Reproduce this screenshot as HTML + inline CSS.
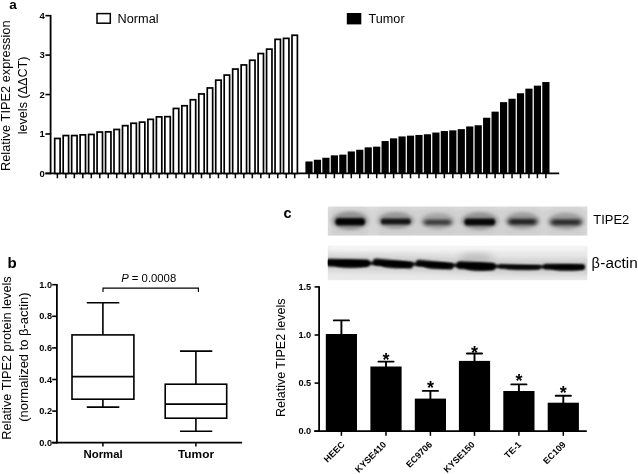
<!DOCTYPE html>
<html lang="en"><head><meta charset="utf-8"><title>TIPE2 expression figure</title>
<style>html,body{margin:0;padding:0;background:#fff;overflow:hidden}svg{display:block;filter:blur(0.3px)}text{font-family:"Liberation Sans", sans-serif;fill:#000}.b{font-weight:bold}.ax{stroke:#000;fill:none}</style></head><body>
<svg width="638" height="474" viewBox="0 0 638 474">
<defs><filter id="bl1" filterUnits="userSpaceOnUse" x="300" y="190" width="338" height="110"><feGaussianBlur stdDeviation="1.3 1.05"/></filter><filter id="bl4" filterUnits="userSpaceOnUse" x="300" y="190" width="338" height="110"><feGaussianBlur stdDeviation="1.9 1.4"/></filter><filter id="bl2" filterUnits="userSpaceOnUse" x="300" y="190" width="338" height="110"><feGaussianBlur stdDeviation="2.2 1.6"/></filter><filter id="bl3" filterUnits="userSpaceOnUse" x="300" y="190" width="338" height="110"><feGaussianBlur stdDeviation="4 3"/></filter><clipPath id="c1"><rect x="327.8" y="206.6" width="259.6" height="29"/></clipPath><clipPath id="c2"><rect x="327.8" y="245.8" width="259.6" height="34.4"/></clipPath></defs>
<rect width="638" height="474" fill="#fff"/>
<g id="panel-a">
<text class="b" x="9.2" y="9.0" font-size="13.5">a</text>
<line class="ax" x1="50.6" y1="14.95" x2="50.6" y2="174.30" stroke-width="1.8"/>
<line class="ax" x1="45.4" y1="173.45" x2="50.6" y2="173.45" stroke-width="1.6"/>
<text class="b" x="44.9" y="176.80" font-size="9.5" text-anchor="end">0</text>
<line class="ax" x1="45.4" y1="134.00" x2="50.6" y2="134.00" stroke-width="1.6"/>
<text class="b" x="44.9" y="137.35" font-size="9.5" text-anchor="end">1</text>
<line class="ax" x1="45.4" y1="94.55" x2="50.6" y2="94.55" stroke-width="1.6"/>
<text class="b" x="44.9" y="97.90" font-size="9.5" text-anchor="end">2</text>
<line class="ax" x1="45.4" y1="55.10" x2="50.6" y2="55.10" stroke-width="1.6"/>
<text class="b" x="44.9" y="58.45" font-size="9.5" text-anchor="end">3</text>
<line class="ax" x1="45.4" y1="15.65" x2="50.6" y2="15.65" stroke-width="1.6"/>
<text class="b" x="44.9" y="19.00" font-size="9.5" text-anchor="end">4</text>
<line class="ax" x1="45.4" y1="173.45" x2="559.2" y2="173.45" stroke-width="1.7"/>
<g fill="#fff" stroke="#000" stroke-width="1.70">
<rect x="54.70" y="138.45" width="5.40" height="35.00"/>
<rect x="63.18" y="135.55" width="5.40" height="37.90"/>
<rect x="71.65" y="135.55" width="5.40" height="37.90"/>
<rect x="80.12" y="134.85" width="5.40" height="38.60"/>
<rect x="88.60" y="134.45" width="5.40" height="39.00"/>
<rect x="97.08" y="132.05" width="5.40" height="41.40"/>
<rect x="105.55" y="131.85" width="5.40" height="41.60"/>
<rect x="114.02" y="129.45" width="5.40" height="44.00"/>
<rect x="122.50" y="125.65" width="5.40" height="47.80"/>
<rect x="130.97" y="123.25" width="5.40" height="50.20"/>
<rect x="139.45" y="122.15" width="5.40" height="51.30"/>
<rect x="147.92" y="119.35" width="5.40" height="54.10"/>
<rect x="156.40" y="116.85" width="5.40" height="56.60"/>
<rect x="164.87" y="116.65" width="5.40" height="56.80"/>
<rect x="173.35" y="108.45" width="5.40" height="65.00"/>
<rect x="181.82" y="105.75" width="5.40" height="67.70"/>
<rect x="190.30" y="99.75" width="5.40" height="73.70"/>
<rect x="198.77" y="93.95" width="5.40" height="79.50"/>
<rect x="207.25" y="87.95" width="5.40" height="85.50"/>
<rect x="215.72" y="80.15" width="5.40" height="93.30"/>
<rect x="224.20" y="75.05" width="5.40" height="98.40"/>
<rect x="232.67" y="69.05" width="5.40" height="104.40"/>
<rect x="241.15" y="64.95" width="5.40" height="108.50"/>
<rect x="249.62" y="60.25" width="5.40" height="113.20"/>
<rect x="258.10" y="53.55" width="5.40" height="119.90"/>
<rect x="266.57" y="49.15" width="5.40" height="124.30"/>
<rect x="275.05" y="39.35" width="5.40" height="134.10"/>
<rect x="283.52" y="38.35" width="5.40" height="135.10"/>
<rect x="292.00" y="35.25" width="5.40" height="138.20"/>
</g>
<g fill="#000">
<rect x="305.40" y="161.45" width="7.20" height="12.00"/>
<rect x="313.86" y="159.75" width="7.20" height="13.70"/>
<rect x="322.32" y="157.75" width="7.20" height="15.70"/>
<rect x="330.78" y="155.35" width="7.20" height="18.10"/>
<rect x="339.24" y="154.65" width="7.20" height="18.80"/>
<rect x="347.70" y="151.45" width="7.20" height="22.00"/>
<rect x="356.16" y="149.75" width="7.20" height="23.70"/>
<rect x="364.62" y="147.35" width="7.20" height="26.10"/>
<rect x="373.08" y="146.65" width="7.20" height="26.80"/>
<rect x="381.54" y="141.05" width="7.20" height="32.40"/>
<rect x="390.00" y="138.35" width="7.20" height="35.10"/>
<rect x="398.46" y="136.45" width="7.20" height="37.00"/>
<rect x="406.92" y="135.65" width="7.20" height="37.80"/>
<rect x="415.38" y="134.95" width="7.20" height="38.50"/>
<rect x="423.84" y="134.25" width="7.20" height="39.20"/>
<rect x="432.30" y="132.55" width="7.20" height="40.90"/>
<rect x="440.76" y="131.05" width="7.20" height="42.40"/>
<rect x="449.22" y="130.35" width="7.20" height="43.10"/>
<rect x="457.68" y="129.15" width="7.20" height="44.30"/>
<rect x="466.14" y="126.45" width="7.20" height="47.00"/>
<rect x="474.60" y="125.25" width="7.20" height="48.20"/>
<rect x="483.06" y="117.75" width="7.20" height="55.70"/>
<rect x="491.52" y="111.65" width="7.20" height="61.80"/>
<rect x="499.98" y="102.15" width="7.20" height="71.30"/>
<rect x="508.44" y="98.75" width="7.20" height="74.70"/>
<rect x="516.90" y="93.25" width="7.20" height="80.20"/>
<rect x="525.36" y="88.65" width="7.20" height="84.80"/>
<rect x="533.82" y="85.65" width="7.20" height="87.80"/>
<rect x="542.28" y="82.05" width="7.20" height="91.40"/>
</g>
<path class="ax" d="M57.40 173.45V178.35M65.88 173.45V178.35M74.35 173.45V178.35M82.82 173.45V178.35M91.30 173.45V178.35M99.78 173.45V178.35M108.25 173.45V178.35M116.72 173.45V178.35M125.20 173.45V178.35M133.67 173.45V178.35M142.15 173.45V178.35M150.62 173.45V178.35M159.10 173.45V178.35M167.57 173.45V178.35M176.05 173.45V178.35M184.53 173.45V178.35M193.00 173.45V178.35M201.47 173.45V178.35M209.95 173.45V178.35M218.43 173.45V178.35M226.90 173.45V178.35M235.38 173.45V178.35M243.85 173.45V178.35M252.32 173.45V178.35M260.80 173.45V178.35M269.27 173.45V178.35M277.75 173.45V178.35M286.22 173.45V178.35M294.70 173.45V178.35M309.00 173.45V178.35M317.46 173.45V178.35M325.92 173.45V178.35M334.38 173.45V178.35M342.84 173.45V178.35M351.30 173.45V178.35M359.76 173.45V178.35M368.22 173.45V178.35M376.68 173.45V178.35M385.14 173.45V178.35M393.60 173.45V178.35M402.06 173.45V178.35M410.52 173.45V178.35M418.98 173.45V178.35M427.44 173.45V178.35M435.90 173.45V178.35M444.36 173.45V178.35M452.82 173.45V178.35M461.28 173.45V178.35M469.74 173.45V178.35M478.20 173.45V178.35M486.66 173.45V178.35M495.12 173.45V178.35M503.58 173.45V178.35M512.04 173.45V178.35M520.50 173.45V178.35M528.96 173.45V178.35M537.42 173.45V178.35M545.88 173.45V178.35" stroke-width="1.5"/>
<rect x="97" y="13.6" width="13.3" height="9.6" fill="#fff" stroke="#000" stroke-width="1.5"/>
<text x="117.6" y="22.5" font-size="12.5" textLength="41" lengthAdjust="spacingAndGlyphs">Normal</text>
<rect x="346.8" y="13" width="14.5" height="11.4" fill="#000"/>
<text x="368.6" y="23.2" font-size="12.5" textLength="36" lengthAdjust="spacingAndGlyphs">Tumor</text>
<text transform="translate(10.3 171) rotate(-90)" font-size="12.7" textLength="150.6" lengthAdjust="spacingAndGlyphs">Relative TIPE2 expression</text>
<text transform="translate(27.3 134.3) rotate(-90)" font-size="12.7" textLength="77.8" lengthAdjust="spacingAndGlyphs">levels (ΔΔCT)</text>
</g>
<g id="panel-b">
<text class="b" x="7.6" y="268.1" font-size="15">b</text>
<line class="ax" x1="56.9" y1="284.00" x2="56.9" y2="443.55" stroke-width="1.8"/>
<line class="ax" x1="52.2" y1="442.70" x2="56.9" y2="442.70" stroke-width="1.6"/>
<text class="b" x="52.0" y="445.80" font-size="9.2" text-anchor="end">0.0</text>
<line class="ax" x1="52.2" y1="411.10" x2="56.9" y2="411.10" stroke-width="1.6"/>
<text class="b" x="52.0" y="414.20" font-size="9.2" text-anchor="end">0.2</text>
<line class="ax" x1="52.2" y1="379.50" x2="56.9" y2="379.50" stroke-width="1.6"/>
<text class="b" x="52.0" y="382.60" font-size="9.2" text-anchor="end">0.4</text>
<line class="ax" x1="52.2" y1="347.90" x2="56.9" y2="347.90" stroke-width="1.6"/>
<text class="b" x="52.0" y="351.00" font-size="9.2" text-anchor="end">0.6</text>
<line class="ax" x1="52.2" y1="316.30" x2="56.9" y2="316.30" stroke-width="1.6"/>
<text class="b" x="52.0" y="319.40" font-size="9.2" text-anchor="end">0.8</text>
<line class="ax" x1="52.2" y1="284.70" x2="56.9" y2="284.70" stroke-width="1.6"/>
<text class="b" x="52.0" y="287.80" font-size="9.2" text-anchor="end">1.0</text>
<line class="ax" x1="52.2" y1="442.7" x2="242.1" y2="442.7" stroke-width="1.7"/>
<path class="ax" d="M102.9 442.7V446.50M195.9 442.7V446.50" stroke-width="1.5"/>
<g class="ax" stroke-width="1.6">
<rect x="72" y="334.9" width="61.9" height="64.30" fill="#fff"/>
<path d="M72 376.6H133.9M102.9 334.9V302.7M86.8 302.7H119.3M102.9 399.2V407.1M86.8 407.1H119.3"/>
<rect x="165.2" y="384.2" width="61.5" height="34.00" fill="#fff"/>
<path d="M165.2 404.1H226.7M195.9 384.2V351.1M180 351.1H212.3M195.9 418.2V431.2M180 431.2H212.3"/>
</g>
<path class="ax" d="M103 292V288.1H198.4V292" stroke-width="1.15"/>
<text x="121.2" y="282" font-size="11.3" textLength="55" lengthAdjust="spacingAndGlyphs"><tspan font-style="italic">P</tspan> = 0.0008</text>
<text class="b" x="103.1" y="457.6" font-size="11.3" text-anchor="middle" textLength="39.3" lengthAdjust="spacingAndGlyphs">Normal</text>
<text class="b" x="196" y="457.6" font-size="11.3" text-anchor="middle" textLength="36" lengthAdjust="spacingAndGlyphs">Tumor</text>
<text transform="translate(10.8 439.7) rotate(-90)" font-size="12.7" textLength="163.4" lengthAdjust="spacingAndGlyphs">Relative TIPE2 protein levels</text>
<text transform="translate(28.1 421.7) rotate(-90)" font-size="12.7" textLength="129.3" lengthAdjust="spacingAndGlyphs">(normalized to β-actin)</text>
</g>
<g id="panel-c">
<text class="b" x="283.6" y="217.7" font-size="14.5">c</text>
<rect x="327.8" y="206.6" width="259.6" height="29" fill="#dedede"/>
<g clip-path="url(#c1)">
<rect x="327.8" y="206.6" width="259.6" height="3" fill="#fff" opacity="0.35" filter="url(#bl2)"/>
<rect x="330.2" y="204" width="40" height="34" fill="#000" opacity="0.07" filter="url(#bl3)"/>
<ellipse cx="350.2" cy="220.8" rx="18.0" ry="9.2" fill="#000" opacity="0.29" filter="url(#bl2)"/>
<rect x="335.20" y="218.10" width="30.0" height="7.4" rx="3.70" fill="#000" opacity="0.97" filter="url(#bl1)"/>
<rect x="375.8" y="204" width="40" height="34" fill="#000" opacity="0.07" filter="url(#bl3)"/>
<ellipse cx="395.8" cy="220.5" rx="18.0" ry="8.4" fill="#000" opacity="0.26" filter="url(#bl2)"/>
<rect x="380.80" y="218.60" width="30.0" height="5.8" rx="2.90" fill="#000" opacity="0.86" filter="url(#bl1)"/>
<rect x="417.6" y="204" width="40" height="34" fill="#000" opacity="0.07" filter="url(#bl3)"/>
<ellipse cx="437.6" cy="221.2" rx="16.5" ry="8.3" fill="#000" opacity="0.19" filter="url(#bl2)"/>
<rect x="424.10" y="219.40" width="27.0" height="5.6" rx="2.80" fill="#000" opacity="0.64" filter="url(#bl4)"/>
<rect x="459.8" y="204" width="40" height="34" fill="#000" opacity="0.07" filter="url(#bl3)"/>
<ellipse cx="479.8" cy="221.0" rx="18.5" ry="8.9" fill="#000" opacity="0.28" filter="url(#bl2)"/>
<rect x="464.30" y="218.60" width="31.0" height="6.8" rx="3.40" fill="#000" opacity="0.95" filter="url(#bl1)"/>
<rect x="502.5" y="204" width="40" height="34" fill="#000" opacity="0.07" filter="url(#bl3)"/>
<ellipse cx="522.5" cy="220.8" rx="17.0" ry="8.5" fill="#000" opacity="0.23" filter="url(#bl2)"/>
<rect x="508.50" y="218.80" width="28.0" height="6.0" rx="3.00" fill="#000" opacity="0.78" filter="url(#bl4)"/>
<rect x="546.0" y="204" width="40" height="34" fill="#000" opacity="0.07" filter="url(#bl3)"/>
<ellipse cx="566.0" cy="221.3" rx="18.0" ry="8.5" fill="#000" opacity="0.22" filter="url(#bl2)"/>
<rect x="551.00" y="219.30" width="30.0" height="6.0" rx="3.00" fill="#000" opacity="0.72" filter="url(#bl4)"/>
</g>
<rect x="327.8" y="245.8" width="259.6" height="34.4" fill="#e9e9e9"/>
<g clip-path="url(#c2)">
<rect x="327.8" y="244" width="259.6" height="7" fill="#fff" opacity="0.5" filter="url(#bl2)"/>
<polyline points="322 262.6 347.8 262.9 393.0 263.6 434.8 264.6 476.1 265.9 519.6 266.9 564.2 266.8 592 267" fill="none" stroke="#000" stroke-width="15" opacity="0.13" filter="url(#bl3)"/>
<ellipse cx="476" cy="257" rx="17" ry="4" fill="#000" opacity="0.16" filter="url(#bl3)"/>
<polyline points="322 262.6 347.8 262.9 393.0 263.6 434.8 264.6 476.1 265.9 519.6 266.9 564.2 266.8 584 267" fill="none" stroke="#000" stroke-width="3.4" opacity="0.92" filter="url(#bl1)"/>
<line x1="329.20" y1="262.60" x2="366.30" y2="263.20" stroke="#000" stroke-width="7.60" stroke-linecap="round" opacity="0.97" filter="url(#bl1)"/>
<ellipse cx="350.75" cy="264.20" rx="16.55" ry="3.80" fill="#000" opacity="0.78" filter="url(#bl1)"/>
<line x1="376.30" y1="262.00" x2="409.70" y2="265.20" stroke="#000" stroke-width="6.80" stroke-linecap="round" opacity="0.95" filter="url(#bl1)"/>
<ellipse cx="396.00" cy="264.90" rx="14.70" ry="3.40" fill="#000" opacity="0.76" filter="url(#bl1)"/>
<line x1="419.10" y1="263.00" x2="450.40" y2="266.20" stroke="#000" stroke-width="6.40" stroke-linecap="round" opacity="0.93" filter="url(#bl1)"/>
<ellipse cx="437.75" cy="265.90" rx="13.65" ry="3.20" fill="#000" opacity="0.74" filter="url(#bl1)"/>
<line x1="460.30" y1="265.20" x2="491.90" y2="266.60" stroke="#000" stroke-width="7.80" stroke-linecap="round" opacity="0.96" filter="url(#bl1)"/>
<ellipse cx="479.10" cy="267.20" rx="13.80" ry="3.90" fill="#000" opacity="0.77" filter="url(#bl1)"/>
<line x1="500.70" y1="266.40" x2="538.50" y2="267.40" stroke="#000" stroke-width="4.20" stroke-linecap="round" opacity="0.74" filter="url(#bl1)"/>
<ellipse cx="522.60" cy="268.20" rx="16.90" ry="2.10" fill="#000" opacity="0.59" filter="url(#bl1)"/>
<line x1="546.30" y1="266.60" x2="582.20" y2="267.00" stroke="#000" stroke-width="5.80" stroke-linecap="round" opacity="0.85" filter="url(#bl1)"/>
<ellipse cx="567.25" cy="268.10" rx="15.95" ry="2.90" fill="#000" opacity="0.68" filter="url(#bl1)"/>
</g>
<text x="593.3" y="224.2" font-size="13" textLength="36" lengthAdjust="spacingAndGlyphs">TIPE2</text>
<text x="591.4" y="268.1" font-size="14"><tspan font-size="14.5">β</tspan><tspan dx="0.6" textLength="37.4" lengthAdjust="spacingAndGlyphs">-actin</tspan></text>
<line class="ax" x1="319.1" y1="286.20" x2="319.1" y2="432.05" stroke-width="1.8"/>
<line class="ax" x1="314.6" y1="431.20" x2="319.1" y2="431.20" stroke-width="1.6"/>
<text class="b" x="311.2" y="434.30" font-size="9.2" text-anchor="end">0.0</text>
<line class="ax" x1="314.6" y1="383.10" x2="319.1" y2="383.10" stroke-width="1.6"/>
<text class="b" x="311.2" y="386.20" font-size="9.2" text-anchor="end">0.5</text>
<line class="ax" x1="314.6" y1="335.00" x2="319.1" y2="335.00" stroke-width="1.6"/>
<text class="b" x="311.2" y="338.10" font-size="9.2" text-anchor="end">1.0</text>
<line class="ax" x1="314.6" y1="286.90" x2="319.1" y2="286.90" stroke-width="1.6"/>
<text class="b" x="311.2" y="290.00" font-size="9.2" text-anchor="end">1.5</text>
<line class="ax" x1="314.2" y1="431.2" x2="586.8" y2="431.2" stroke-width="1.7"/>
<rect x="325.80" y="334.0" width="31.2" height="97.20" fill="#000"/>
<path class="ax" d="M341.4 335.0V320.40M333.80 320.40H349.00" stroke-width="1.9" stroke-linecap="round"/>
<line class="ax" x1="341.4" y1="431.2" x2="341.4" y2="435.80" stroke-width="1.5"/>
<text class="b" transform="translate(345.30 445.2) rotate(-45)" font-size="9" text-anchor="end">HEEC</text>
<rect x="370.40" y="366.5" width="31.2" height="64.70" fill="#000"/>
<path class="ax" d="M386.0 367.5V361.60M378.40 361.60H393.60" stroke-width="1.9" stroke-linecap="round"/>
<line class="ax" x1="386.0" y1="431.2" x2="386.0" y2="435.80" stroke-width="1.5"/>
<text class="b" x="386.0" y="365.50" font-size="18" text-anchor="middle">*</text>
<text class="b" transform="translate(386.80 445.2) rotate(-45)" font-size="9" text-anchor="end">KYSE410</text>
<rect x="414.80" y="398.6" width="31.2" height="32.60" fill="#000"/>
<path class="ax" d="M430.4 399.6V390.90M422.80 390.90H438.00" stroke-width="1.9" stroke-linecap="round"/>
<line class="ax" x1="430.4" y1="431.2" x2="430.4" y2="435.80" stroke-width="1.5"/>
<text class="b" x="430.4" y="394.00" font-size="18" text-anchor="middle">*</text>
<text class="b" transform="translate(432.70 445.2) rotate(-45)" font-size="9" text-anchor="end">EC9706</text>
<rect x="458.90" y="360.9" width="31.2" height="70.30" fill="#000"/>
<path class="ax" d="M474.5 361.9V353.50M466.90 353.50H482.10" stroke-width="1.9" stroke-linecap="round"/>
<line class="ax" x1="474.5" y1="431.2" x2="474.5" y2="435.80" stroke-width="1.5"/>
<text class="b" x="474.5" y="358.50" font-size="18" text-anchor="middle">*</text>
<text class="b" transform="translate(475.30 445.2) rotate(-45)" font-size="9" text-anchor="end">KYSE150</text>
<rect x="503.30" y="391.0" width="31.2" height="40.20" fill="#000"/>
<path class="ax" d="M518.9 392.0V384.40M511.30 384.40H526.50" stroke-width="1.9" stroke-linecap="round"/>
<line class="ax" x1="518.9" y1="431.2" x2="518.9" y2="435.80" stroke-width="1.5"/>
<text class="b" x="518.9" y="386.60" font-size="18" text-anchor="middle">*</text>
<text class="b" transform="translate(521.90 445.2) rotate(-45)" font-size="9" text-anchor="end">TE-1</text>
<rect x="547.70" y="402.7" width="31.2" height="28.50" fill="#000"/>
<path class="ax" d="M563.3 403.7V395.80M555.70 395.80H570.90" stroke-width="1.9" stroke-linecap="round"/>
<line class="ax" x1="563.3" y1="431.2" x2="563.3" y2="435.80" stroke-width="1.5"/>
<text class="b" x="563.3" y="399.10" font-size="18" text-anchor="middle">*</text>
<text class="b" transform="translate(566.30 445.2) rotate(-45)" font-size="9" text-anchor="end">EC109</text>
<text transform="translate(284.7 417) rotate(-90)" font-size="12.7" textLength="118.5" lengthAdjust="spacingAndGlyphs">Relative TIPE2 levels</text>
</g>
</svg></body></html>
